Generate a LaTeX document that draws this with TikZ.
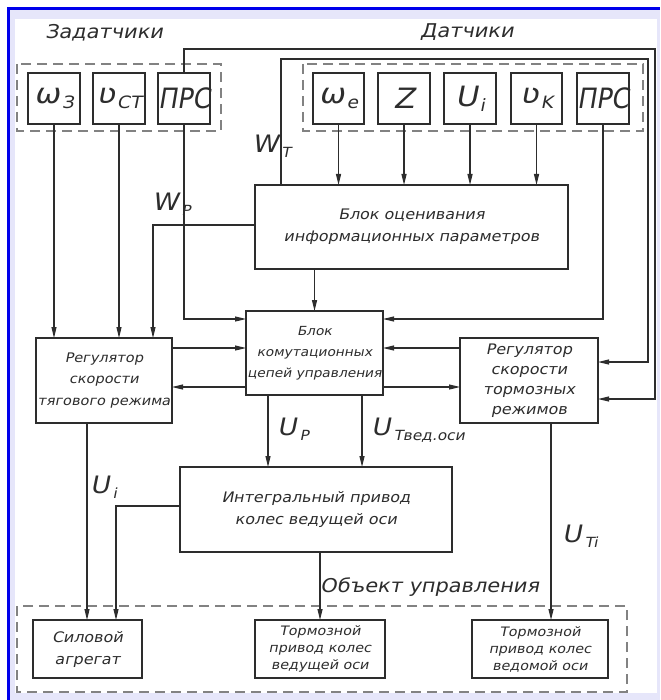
\documentclass[tikz,border=0pt]{standalone}
\usepackage{fontspec}
\usetikzlibrary{arrows.meta}
\newfontfamily\gost{DejaVu Sans}[FakeSlant=0.2, FakeStretch=1.1]
\definecolor{lav}{RGB}{230,230,250}
\definecolor{frameblue}{RGB}{0,0,235}
\definecolor{ln}{RGB}{45,45,45}
\definecolor{dgray}{RGB}{130,130,130}
\newcommand{\sym}[2]{{\fontsize{28}{28}\selectfont #1}\kern2pt\raisebox{-5pt}{\fontsize{17}{17}\selectfont #2}}
\newcommand{\lab}[2]{{\fontsize{24}{24}\selectfont #1}\kern3pt\raisebox{-5pt}{\fontsize{14}{14}\selectfont #2}}
\begin{document}
\begin{tikzpicture}[x=1pt,y=-1pt,
  blk/.style={draw=ln, line width=1.3pt, inner sep=0pt, outer sep=0pt, anchor=north west,
    align=center, text=ln, font=\gost\fontsize{14.5}{22}\selectfont},
  sbox/.style={blk, minimum width=52pt, minimum height=51pt, font=\gost},
  smallblk/.style={blk, font=\gost\fontsize{13}{17}\selectfont},
  arr/.style={draw=ln, line width=1.2pt, -{Triangle[length=11pt,width=5pt]}},
  dbox/.style={draw=dgray, line width=1.3pt, dash pattern=on 10pt off 6pt},
  lbl/.style={anchor=base west, inner sep=0pt, text=ln, font=\gost},
  head/.style={lbl, font=\gost\fontsize{19}{19}\selectfont}]
\useasboundingbox (0,0) rectangle (660,700);
% frame
\fill[white] (0,0) rectangle (660,700);
\fill[lav] (10,10) rectangle (660,700);
\fill[white] (15,19) rectangle (657,693);
\draw[frameblue, line width=3pt] (8.5,700) -- (8.5,8.5) -- (660,8.5);
% dashed groups
\draw[dbox] (17,64) rectangle (221,131);
\draw[dbox] (303,64) rectangle (643,131);
\draw[dbox] (17,606) rectangle (627,692);
% headings
\node[head] (hz) at (45,39) {Задатчики};
\node[head] (hd) at (420,38) {Датчики};
\node[head] (ho) at (320,592) {Объект управления};
% top boxes
\node[sbox] (wz) at (28,73) {\sym{ω}{З}};
\node[sbox] (vst) at (93,73) {\sym{ʋ}{СТ}};
\node[sbox] (prs1) at (158,73) {\scalebox{0.82}[1]{\fontsize{28}{28}\selectfont ПРС}};
\node[sbox, minimum width=51pt] (we) at (313,73) {\sym{ω}{e}};
\node[sbox] (zz) at (378,73) {\fontsize{28}{28}\selectfont Z};
\node[sbox] (ui) at (444,73) {\sym{U}{i}};
\node[sbox, minimum width=51pt] (vk) at (511,73) {\sym{ʋ}{K}};
\node[sbox, minimum width=51pt] (prs2) at (577,73) {\scalebox{0.82}[1]{\fontsize{28}{28}\selectfont ПРС}};
% main blocks
\node[blk, minimum width=313pt, minimum height=84pt] (ocen) at (255,185) {Блок оценивания\\информационных параметров};
\node[blk, minimum width=137pt, minimum height=84pt, font=\gost\fontsize{12.5}{21}\selectfont] (komm) at (246,311) {Блок\\комутационных\\цепей управления};
\node[blk, minimum width=136pt, minimum height=85pt, font=\gost\fontsize{13.2}{21.5}\selectfont] (regt) at (36,338) {Регулятор\\скорости\\тягового режима};
\node[blk, minimum width=138pt, minimum height=85pt, font=\gost\fontsize{14.5}{20}\selectfont] (regb) at (460,338) {Регулятор\\скорости\\тормозных\\режимов};
\node[blk, minimum width=272pt, minimum height=85pt] (integ) at (180,467) {Интегральный привод\\колес ведущей оси};
\node[blk, minimum width=109pt, minimum height=58pt] (sil) at (33,620) {Силовой\\агрегат};
\node[smallblk, minimum width=130pt, minimum height=58pt] (tor1) at (255,620) {Тормозной\\привод колес\\ведущей оси};
\node[smallblk, minimum width=136pt, minimum height=58pt] (tor2) at (472,620) {Тормозной\\привод колес\\ведомой оси};
% helper coordinates
\coordinate (c1) at (655,49);
\coordinate (c2) at (648,59);
\coordinate (rt1) at ([yshift=-10pt]regt.north east);
\coordinate (rt2) at ([yshift=-49pt]regt.north east);
\coordinate (rb1) at ([yshift=-10pt]regb.north west);
\coordinate (rb2) at ([yshift=-49pt]regb.north west);
\coordinate (up) at ([xshift=22pt]komm.south west);
\coordinate (ut) at ([xshift=116pt]komm.south west);
% sensor arrows
\draw[arr] (we.south) -- (we.south |- ocen.north);
\draw[arr] (zz.south) -- (zz.south |- ocen.north);
\draw[arr] (ui.south) -- (ui.south |- ocen.north);
\draw[arr] (vk.south) -- (vk.south |- ocen.north);
\draw[arr] (prs2.south) |- ([yshift=-8pt]komm.north east);
% setters
\draw[arr] (wz.south) -- (wz.south |- regt.north);
\draw[arr] (vst.south) -- (vst.south |- regt.north);
\draw[arr] (prs1.south) |- ([yshift=-8pt]komm.north west);
\draw[arr] (prs1.north) |- (c1) |- ([yshift=-61pt]regb.north east);
\draw[arr] ([xshift=26pt]ocen.north west) |- (c2) |- ([yshift=-24pt]regb.north east);
\draw[arr] ([yshift=-40pt]ocen.north west) -| ([xshift=117pt]regt.north west);
\draw[arr] (komm.north |- ocen.south) -- (komm.north);
% regulators <-> commutation
\draw[arr] (rt1) -- (rt1 -| komm.west);
\draw[arr] (rt2 -| komm.west) -- (rt2);
\draw[arr] (rb1) -- (rb1 -| komm.east);
\draw[arr] (rb2 -| komm.east) -- (rb2);
% to integral
\draw[arr] (up) -- (up |- integ.north);
\draw[arr] (ut) -- (ut |- integ.north);
% to object
\draw[arr] ([yshift=-39pt]integ.north west) -| ([xshift=83pt]sil.north west);
\draw[arr] (tor1.north |- integ.south) -- (tor1.north);
\draw[arr] ([xshift=51pt]regt.south west) -- ([xshift=54pt]sil.north west);
\draw[arr] ([xshift=91pt]regb.south west) -- ([xshift=79pt]tor2.north west);
% labels
\node[lbl] (lwt) at (252,153) {\lab{W}{Т}};
\node[lbl] (lwp) at (152,211) {\lab{W}{Р}};
\node[lbl] (lup) at (277,435) {\lab{U}{Р}};
\node[lbl] (lut) at (371,435) {\lab{U}{Твед.оси}};
\node[lbl] (lui) at (90,493) {\lab{U}{i}};
\node[lbl] (lti) at (562,542) {\lab{U}{Ti}};
\end{tikzpicture}
\end{document}
